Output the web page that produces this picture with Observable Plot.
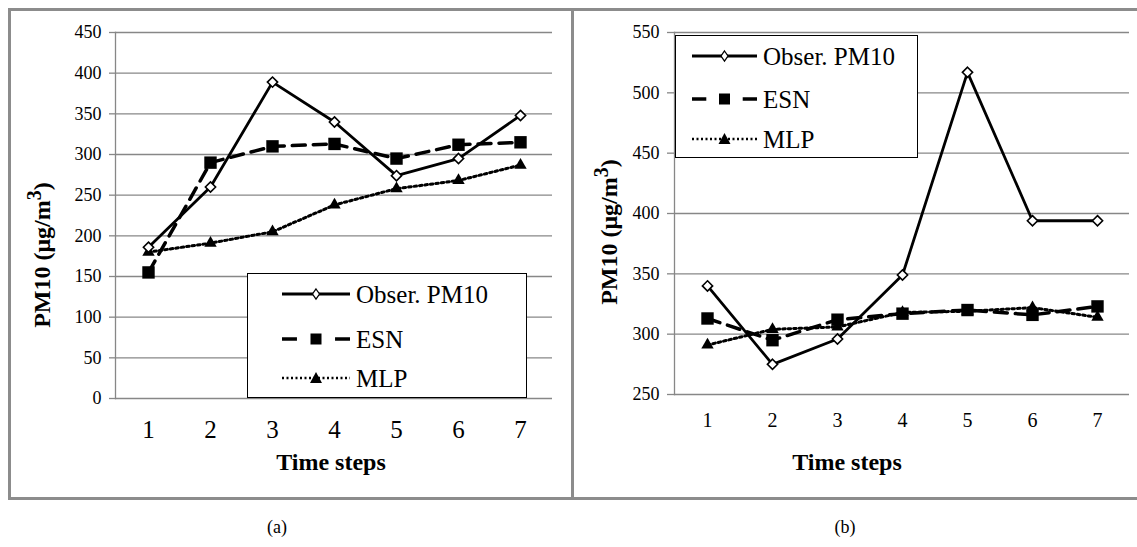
<!DOCTYPE html>
<html>
<head>
<meta charset="utf-8">
<script src="https://cdn.jsdelivr.net/npm/d3@7"></script>
<script src="https://cdn.jsdelivr.net/npm/@observablehq/plot@0.6"></script>
<style>
  html, body { margin: 0; padding: 0; background: #fff; }
  #root { position: relative; width: 1137px; height: 547px; overflow: hidden; background: #fff;
          font-family: "Liberation Serif", "Times New Roman", serif; color: #000; }
  #root svg, #root svg text { font-family: "Liberation Serif", "Times New Roman", serif !important; }
  .abs { position: absolute; }
  .ctr { position: absolute; transform: translate(-50%, -50%); white-space: nowrap; }
  .title { font-weight: bold; font-size: 24px; }
  .cap { font-size: 18px; }
  .legend { position: absolute; border: 1.5px solid #000; background: #fff; box-sizing: border-box; }
</style>
</head>
<body>
<div id="root"></div>
<script>
// ---- data ----
const steps = [1, 2, 3, 4, 5, 6, 7];
const seriesNames = ["Obser. PM10", "ESN", "MLP"];
// panel (a)
const obsA = [186, 260, 389, 340, 274, 295, 348];
const esnA = [155, 290, 310, 313, 295, 312, 315];
const mlpA = [180, 191, 205, 238, 258, 268, 287];
const yTicksA = [0, 50, 100, 150, 200, 250, 300, 350, 400, 450];
// panel (b)
const obsB = [340, 275, 296, 349, 517, 394, 394];
const esnB = [313, 295, 312, 317, 320, 316, 323];
const mlpB = [291, 304, 306, 318, 319, 322, 314];
const yTicksB = [250, 300, 350, 400, 450, 500, 550];
const yLabel = "PM10 (μg/m<sup>3</sup>)";
const xLabel = "Time steps";
const captions = ["(a)", "(b)"];

const root = document.getElementById("root");
const GRID = "#878787";
const FONT = '"Liberation Serif", "Times New Roman", serif';

function chart(o) {
  const rows = steps.map((s, i) => ({step: s, obs: o.obs[i], esn: o.esn[i], mlp: o.mlp[i]}));
  const svg = Plot.plot({
    width: o.width, height: o.height,
    marginLeft: o.mL, marginRight: o.mR, marginTop: o.mT, marginBottom: o.mB,
    style: `font-family: ${FONT}; color: #000; background: transparent; overflow: visible;`,
    x: {type: "point", domain: steps, padding: 0.5},
    y: {domain: [o.yTicks[0], o.yTicks[o.yTicks.length - 1]]},
    marks: [
      Plot.gridY(o.yTicks, {stroke: GRID, strokeOpacity: 1, strokeWidth: 1.3}),
      Plot.frame({anchor: "left", stroke: GRID, strokeWidth: 1.3}),
      Plot.axisY(o.yTicks, {tickSize: o.yTickSize, tickPadding: o.yPad, fontSize: o.yFont, fontFamily: FONT, stroke: GRID, strokeWidth: 1.3, fill: "#000", label: null}),
      Plot.axisX(steps, {tickSize: 0, tickPadding: o.xPad, fontSize: o.xFont, fontFamily: FONT, fill: "#000", label: null}),
      Plot.lineY(rows, {x: "step", y: "mlp", stroke: "#000", strokeWidth: 3, strokeDasharray: "2.5,3"}),
      Plot.lineY(rows, {x: "step", y: "esn", stroke: "#000", strokeWidth: 3.5, strokeDasharray: "13,8"}),
      Plot.lineY(rows, {x: "step", y: "obs", stroke: "#000", strokeWidth: 2.8}),
      Plot.dot(rows, {x: "step", y: "esn", symbol: "square", r: 7, fill: "#000"}),
      Plot.dot(rows, {x: "step", y: "mlp", symbol: "triangle", r: 4.6, fill: "#000"}),
      Plot.dot(rows, {x: "step", y: "obs", symbol: "diamond2", r: 4.6, fill: "#fff", stroke: "#000", strokeWidth: 1.6})
    ]
  });
  d3.select(svg).selectAll('g[aria-label="x-axis tick label"]').style("font-size", o.xFont + "px");
  d3.select(svg).selectAll('g[aria-label="y-axis tick label"]').style("font-size", o.yFont + "px");
  return svg;
}

function place(el, left, top) {
  el.style.position = "absolute";
  el.style.left = left + "px";
  el.style.top = top + "px";
  root.appendChild(el);
}

// outer frame and divider
const frame = document.createElement("div");
frame.className = "abs";
Object.assign(frame.style, {left: "8px", top: "8px", width: "1200px", height: "492px",
  border: "3px solid #8c8c8c", boxSizing: "border-box"});
root.appendChild(frame);
const divider = document.createElement("div");
divider.className = "abs";
Object.assign(divider.style, {left: "571px", top: "8px", width: "3px", height: "492px", background: "#8c8c8c"});
root.appendChild(divider);

// panel a
place(chart({obs: obsA, esn: esnA, mlp: mlpA, yTicks: yTicksA, width: 571, height: 500,
  mL: 115, mR: 19, mT: 32, mB: 102, yFont: 18, xFont: 25, yTickSize: 6, yPad: 8, xPad: 22}), 0, 0);
// panel b
place(chart({obs: obsB, esn: esnB, mlp: mlpB, yTicks: yTicksB, width: 562, height: 500,
  mL: 99, mR: 8, mT: 32, mB: 106, yFont: 18, xFont: 20, yTickSize: 7, yPad: 8, xPad: 18}), 575, 0);

function text(html, cls, x, y, rotate) {
  const d = document.createElement("div");
  d.className = "ctr " + cls;
  d.innerHTML = html;
  d.style.left = x + "px";
  d.style.top = y + "px";
  if (rotate) d.style.transform = "translate(-50%, -50%) rotate(-90deg)";
  root.appendChild(d);
}
text(yLabel, "title", 39, 255, true);
text(yLabel, "title", 606, 232, true);
text(xLabel, "title", 331, 462);
text(xLabel, "title", 847, 462);
text(captions[0], "cap", 277, 527);
text(captions[1], "cap", 845, 527);

// legends
function legend(left, top, w, h, rowsY, x0, x1, tx, fs) {
  const box = document.createElement("div");
  box.className = "legend";
  Object.assign(box.style, {left: left + "px", top: top + "px", width: w + "px", height: h + "px"});
  const svg = d3.create("svg").attr("width", w).attr("height", h)
    .style("position", "absolute").style("left", "-1.5px").style("top", "-1.5px")
    .style("font-family", FONT);
  const xm = (x0 + x1) / 2;
  svg.append("line").attr("x1", x0).attr("x2", x1).attr("y1", rowsY[0]).attr("y2", rowsY[0])
    .attr("stroke", "#000").attr("stroke-width", 2.8);
  svg.append("path").attr("d", `M${xm},${rowsY[0]-5}L${xm+3.5},${rowsY[0]}L${xm},${rowsY[0]+5}L${xm-3.5},${rowsY[0]}Z`)
    .attr("fill", "#fff").attr("stroke", "#000").attr("stroke-width", 1.3);
  const seg = (x1 - x0) * 0.22;
  svg.append("line").attr("x1", x0).attr("x2", x0 + seg).attr("y1", rowsY[1]).attr("y2", rowsY[1])
    .attr("stroke", "#000").attr("stroke-width", 3.5);
  svg.append("line").attr("x1", x1 - seg).attr("x2", x1).attr("y1", rowsY[1]).attr("y2", rowsY[1])
    .attr("stroke", "#000").attr("stroke-width", 3.5);
  svg.append("rect").attr("x", xm - 5.5).attr("y", rowsY[1] - 5.5).attr("width", 11).attr("height", 11).attr("fill", "#000");
  svg.append("line").attr("x1", x0).attr("x2", x1).attr("y1", rowsY[2]).attr("y2", rowsY[2])
    .attr("stroke", "#000").attr("stroke-width", 2.5).attr("stroke-dasharray", "2,2.5");
  svg.append("path").attr("d", `M${xm},${rowsY[2]-6}L${xm+6},${rowsY[2]+5}L${xm-6},${rowsY[2]+5}Z`).attr("fill", "#000");
  seriesNames.forEach((n, i) => {
    svg.append("text").attr("x", tx).attr("y", rowsY[i]).attr("dy", "0.35em")
      .style("font-size", fs + "px").style("font-family", FONT)
      .attr("fill", "#000").text(n);
  });
  box.appendChild(svg.node());
  root.appendChild(box);
}
legend(247, 273, 280, 125, [21, 66, 105], 35, 103, 109, 25);
legend(675, 35, 243, 123, [21, 64, 104], 17, 82, 88, 25);
</script>
</body>
</html>
